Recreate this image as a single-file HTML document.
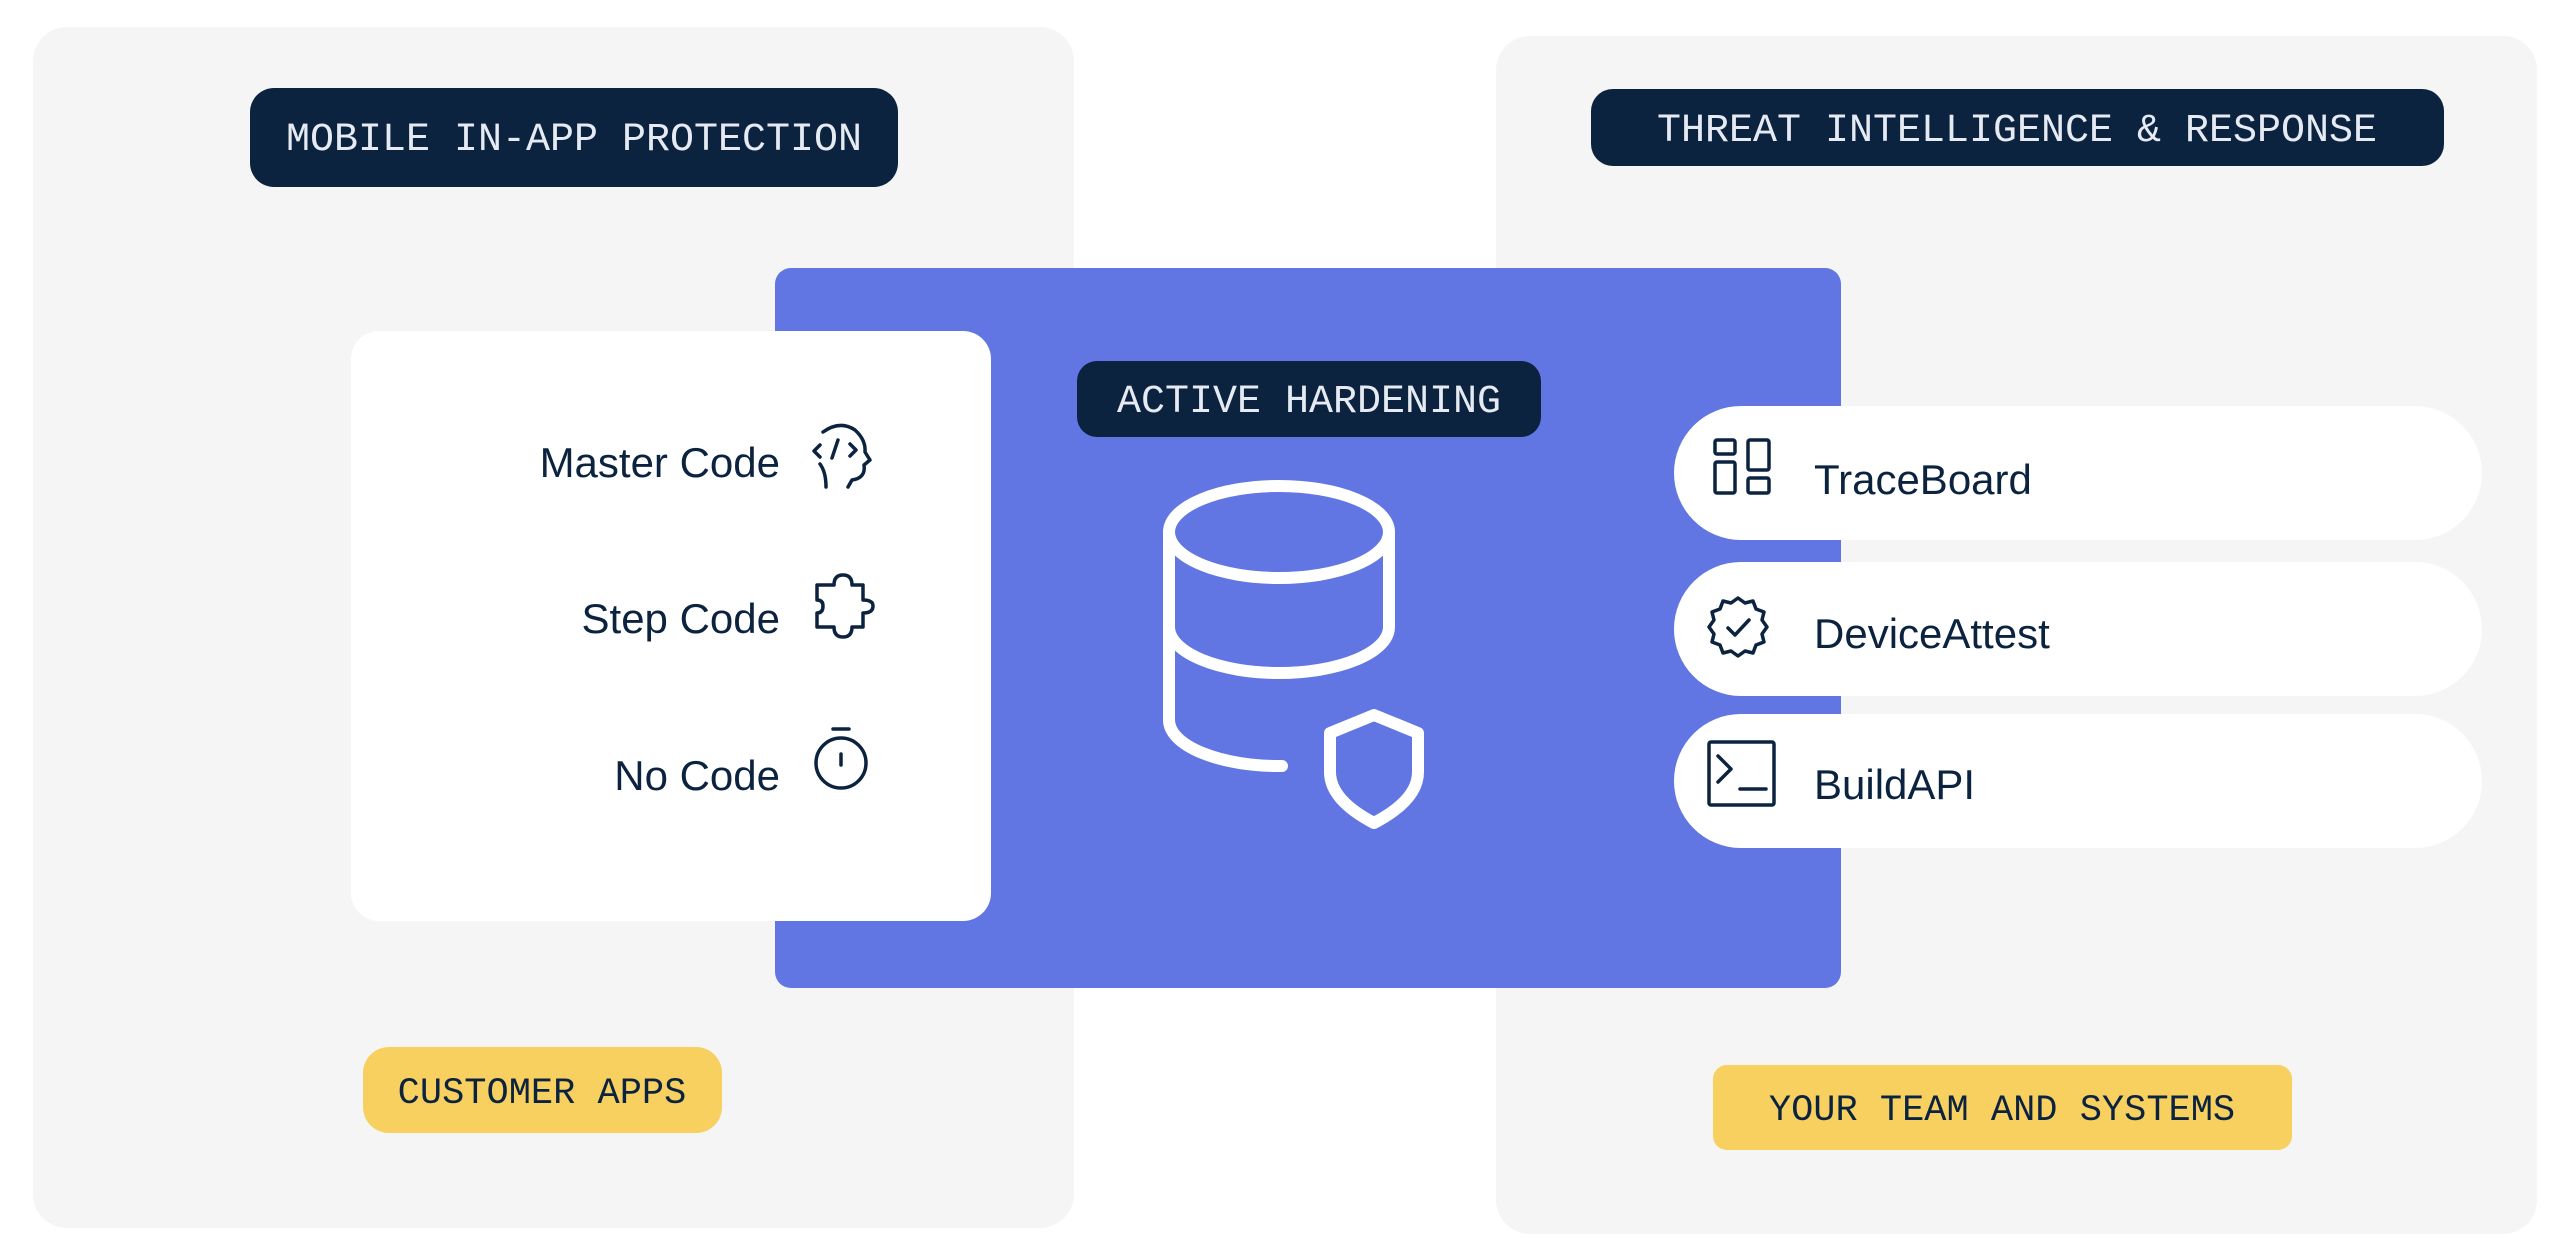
<!DOCTYPE html>
<html><head><meta charset="utf-8"><style>
html,body{margin:0;padding:0;background:#fff;}
body{width:2572px;height:1250px;overflow:hidden;position:relative;}
svg{position:absolute;left:0;top:0;}
.mono{font-family:"Liberation Mono",monospace;font-size:40px;}
.sans{font-family:"Liberation Sans",sans-serif;font-size:42px;fill:#0c2340;}
</style></head><body>
<svg width="2572" height="1250" viewBox="0 0 2572 1250">
<rect x="33" y="27" width="1041" height="1201" rx="34" fill="#f5f5f5"/>
<rect x="1496" y="36" width="1041" height="1198" rx="34" fill="#f5f5f5"/>
<rect x="250" y="88" width="648" height="99" rx="24" fill="#0c2340"/>
<text x="574" y="150" class="mono" fill="#e6eaf2" text-anchor="middle">MOBILE IN-APP PROTECTION</text>
<rect x="1591" y="89" width="853" height="77" rx="22" fill="#0c2340"/>
<text x="2017" y="141" class="mono" fill="#e6eaf2" text-anchor="middle">THREAT INTELLIGENCE &amp; RESPONSE</text>
<rect x="775" y="268" width="1066" height="720" rx="16" fill="#6176e3"/>
<rect x="351" y="331" width="640" height="590" rx="28" fill="#fff"/>
<rect x="1077" y="361" width="464" height="76" rx="20" fill="#0c2340"/>
<text x="1309" y="412" class="mono" fill="#e6eaf2" text-anchor="middle">ACTIVE HARDENING</text>
<!-- database -->
<g fill="none" stroke="#fff" stroke-width="12" stroke-linecap="round" stroke-linejoin="round">
<ellipse cx="1279" cy="532" rx="110" ry="46"/>
<path d="M1389 532 V627 A110 46 0 0 1 1169 627"/>
<path d="M1169 532 V720 A110 46 0 0 0 1282 766"/>
<path d="M1374 715 L1418 733 V772 Q1418 800 1374 823 Q1330 800 1330 772 V733 Z"/>
</g>
<!-- white card text -->
<text x="780" y="477" class="sans" text-anchor="end">Master Code</text>
<text x="780" y="633" class="sans" text-anchor="end">Step Code</text>
<text x="780" y="790" class="sans" text-anchor="end">No Code</text>
<g fill="none" stroke="#0c2340" stroke-width="3.5" stroke-linecap="round" stroke-linejoin="round">
<!-- head -->
<path d="M823 432 Q840 420 855 430 Q866 440 865 452 L870 460 L864 465 Q866 478 852 480 L848 487"/>
<path d="M820 464 Q826 472 826 487"/>
<path d="M820 445 L814 451 L820 457 M838 440 L832 458 M850 444 L856 450 L850 456"/>
<!-- puzzle -->
<path d="M817 585 H834 Q834 575 843 575 Q852 575 852 585 H863 V600 Q873 600 873 606 Q873 613 863 613 V627 H852 Q852 637 843 637 Q834 637 834 627 H817 V613 Q823 613 823 606 Q823 600 817 600 Z"/>
<!-- timer -->
<path d="M833 729 H849"/>
<circle cx="841" cy="763" r="25"/>
<path d="M841 754 V765"/>
</g>
<!-- pills -->
<rect x="1674" y="406" width="808" height="134" rx="67" fill="#fff"/>
<rect x="1674" y="562" width="808" height="134" rx="67" fill="#fff"/>
<rect x="1674" y="714" width="808" height="134" rx="67" fill="#fff"/>
<text x="1814" y="494" class="sans">TraceBoard</text>
<text x="1814" y="648" class="sans">DeviceAttest</text>
<text x="1814" y="799" class="sans">BuildAPI</text>
<g fill="none" stroke="#0c2340" stroke-width="3.5" stroke-linecap="round" stroke-linejoin="round">
<rect x="1715" y="440" width="20" height="14" rx="2"/>
<rect x="1715" y="462" width="20" height="31" rx="2"/>
<rect x="1748" y="440" width="21" height="30" rx="2"/>
<rect x="1748" y="478" width="21" height="15" rx="2"/>
<path d="M1738 598 L1745 603 L1753 601 L1756 609 L1764 612 L1762 620 L1767 627 L1762 634 L1764 642 L1756 645 L1753 653 L1745 651 L1738 656 L1731 651 L1723 653 L1720 645 L1712 642 L1714 634 L1709 627 L1714 620 L1712 612 L1720 609 L1723 601 L1731 603 Z"/>
<path d="M1728 628 L1735 635 L1749 620"/>
<rect x="1709" y="742" width="65" height="63" rx="2"/>
<path d="M1718 756 L1731 769 L1718 782 M1740 789 H1766"/>
</g>
<rect x="363" y="1047" width="359" height="86" rx="26" fill="#f7d060"/>
<text x="542" y="1103" class="mono" font-size="37" fill="#0c2340" text-anchor="middle" style="font-size:37px">CUSTOMER APPS</text>
<rect x="1713" y="1065" width="579" height="85" rx="14" fill="#f7d060"/>
<text x="2002" y="1120" class="mono" fill="#0c2340" text-anchor="middle" style="font-size:37px">YOUR TEAM AND SYSTEMS</text>
</svg>
</body></html>
